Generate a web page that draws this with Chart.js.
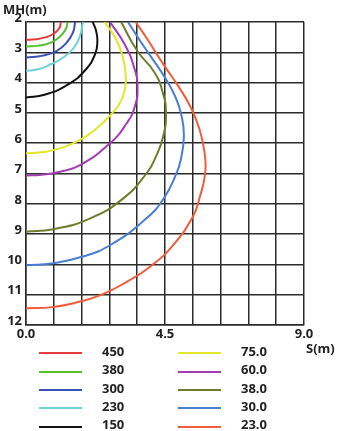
<!DOCTYPE html>
<html>
<head>
<meta charset="utf-8">
<script src="https://cdn.jsdelivr.net/npm/chart.js@4.4.1/dist/chart.umd.min.js"></script>
<style>
  body { margin: 0; background: #fff; }
  #wrap { position: relative; width: 340px; height: 431px; }
  #legend { position: absolute; left: 0; top: 0; width: 340px; height: 431px; pointer-events: none; }
  .item { position: absolute; height: 18px; display: flex; align-items: center; font: bold 13px "Open Sans", sans-serif; color: #222; }
  .item .swatch { width: 43px; height: 2px; }
  .item .txt { margin-left: 20px; position: relative; top: -2.5px; }
</style>
</head>
<body>
<div id="wrap">
  <canvas id="isolux-chart" width="340" height="431"></canvas>
  <div id="legend"></div>
</div>
<script>
// Niveles de las curvas (leyenda)
const levels = ["450", "380", "300", "230", "150", "75.0", "60.0", "38.0", "30.0", "23.0"];
const lineColors = ["#e83b3b", "#55c02a", "#3a52b5", "#6dd3d8", "#111111",
                    "#e2e72a", "#a23fb0", "#6e7d2b", "#4a7ed3", "#f25c3a"];

// Ticks de los ejes
const xGrid = [0, 0.9, 1.8, 2.7, 3.6, 4.5, 5.4, 6.3, 7.2, 8.1, 9.0];
const xLabels = [0, 4.5, 9.0];

// Curvas: [S(m), MH(m)]
const iso450 = [[1.13, 2.0], [1.08, 2.2], [0.92, 2.37], [0.65, 2.5], [0.3, 2.57], [0, 2.59]];
const iso380 = [[1.35, 2.0], [1.28, 2.25], [1.1, 2.48], [0.8, 2.68], [0.4, 2.78], [0, 2.81]];
const iso300 = [[1.59, 2.0], [1.52, 2.35], [1.3, 2.7], [1.0, 2.95], [0.55, 3.11], [0, 3.17]];
const iso230 = [[1.84, 2.0], [1.75, 2.45], [1.55, 2.85], [1.21, 3.17], [0.75, 3.42], [0.35, 3.57], [0, 3.61]];
const iso150 = [[2.16, 2.0], [2.27, 2.3], [2.31, 2.65], [2.24, 3.05], [1.95, 3.55], [1.35, 4.07], [0.6, 4.4], [0, 4.49]];
const iso75 = [[2.54, 2.0], [2.88, 2.5], [3.12, 3.1], [3.23, 3.8], [3.2, 4.2], [3.08, 4.6], [2.8, 5.0], [2.3, 5.5],
               [1.75, 5.89], [1.1, 6.17], [0.5, 6.3], [0, 6.33]];
const iso60 = [[2.72, 2.0], [3.2, 2.75], [3.5, 3.5], [3.61, 4.15], [3.52, 4.8], [3.26, 5.34], [2.72, 6.0],
               [1.75, 6.72], [1.1, 6.94], [0.5, 7.04], [0, 7.07]];
const iso38 = [[3.08, 2.0], [3.6, 2.95], [4.15, 3.65], [4.42, 4.3], [4.53, 5.0], [4.44, 5.78], [4.18, 6.5],
               [3.9, 7.0], [3.15, 7.82], [2.08, 8.48], [0.88, 8.84], [0, 8.92]];
const iso30 = [[3.3, 2.0], [3.85, 2.86], [4.44, 3.74], [4.85, 4.5], [5.05, 5.17], [5.11, 5.8], [5.01, 6.55],
               [4.87, 7.0], [4.46, 7.82], [3.9, 8.48], [2.73, 9.36], [1.81, 9.75], [0.88, 9.96], [0, 10.03]];
const iso23 = [[3.55, 2.0], [3.95, 2.6], [4.45, 3.4], [4.95, 4.15], [5.35, 4.85], [5.62, 5.55], [5.78, 6.3],
               [5.8, 7.0], [5.62, 7.8], [5.4, 8.43], [4.75, 9.38], [4.05, 10.05], [3.3, 10.55], [2.45, 11.0],
               [1.63, 11.26], [0.85, 11.41], [0, 11.45]];

const curves = [iso450, iso380, iso300, iso230, iso150, iso75, iso60, iso38, iso30, iso23];

const gridColor = "#2b2b2b";
const fontBold = { family: "'Open Sans', sans-serif", size: 13, weight: "bold" };

// Títulos de los ejes dibujados en el canvas
const axisNames = {
  id: "axisNames",
  afterDraw(chart) {
    const ctx = chart.ctx;
    ctx.save();
    ctx.fillStyle = "#222";
    ctx.font = "bold 13px 'Open Sans', sans-serif";
    ctx.textBaseline = "middle";
    ctx.textAlign = "left";
    ctx.fillText("MH(m)", 3, 10);
    ctx.fillText("S(m)", 306, 349);
    ctx.restore();
  },
};

const datasets = curves.map((pts, i) => ({
  label: levels[i],
  data: pts.map(p => ({ x: p[0], y: p[1] })),
  borderColor: lineColors[i],
  backgroundColor: lineColors[i],
  borderWidth: 2,
  pointRadius: 0,
  showLine: true,
  tension: 0.5,
  fill: false,
}));

const ctx = document.getElementById("isolux-chart").getContext("2d");
new Chart(ctx, {
  type: "scatter",
  data: { datasets: datasets },
  options: {
    responsive: false,
    animation: false,
    layout: { padding: { left: 0, top: 22, right: 36, bottom: 86 } },
    plugins: {
      legend: { display: false },
      tooltip: { enabled: false },
    },
    scales: {
      x: {
        type: "linear",
        min: 0,
        max: 9,
        afterBuildTicks: scale => {
          scale.ticks = xGrid.map(v => ({ value: v }));
        },
        afterFit: scale => { scale.height = 20; },
        grid: { color: gridColor, lineWidth: 1.5, drawTicks: false },
        border: { color: gridColor, width: 1.5 },
        ticks: {
          color: "#222",
          font: fontBold,
          padding: 1,
          maxRotation: 0,
          autoSkip: false,
          callback: value => (xLabels.includes(value) ? value.toFixed(1) : ""),
        },
      },
      y: {
        type: "linear",
        min: 2,
        max: 12,
        reverse: true,
        afterFit: scale => { scale.width = 26; },
        grid: { color: gridColor, lineWidth: 1.5, drawTicks: false },
        border: { color: gridColor, width: 1.5 },
        ticks: {
          stepSize: 1,
          color: "#222",
          font: fontBold,
          padding: 4,
          labelOffset: -4,
        },
      },
    },
  },
  plugins: [axisNames],
});

// Leyenda en dos columnas
const legend = document.getElementById("legend");
levels.forEach((lvl, i) => {
  const col = i < 5 ? 0 : 1;
  const row = i % 5;
  const item = document.createElement("div");
  item.className = "item";
  item.style.left = (col === 0 ? 39 : 178) + "px";
  item.style.top = (344.3 + row * 18.35) + "px";
  item.innerHTML = '<span class="swatch" style="background:' + lineColors[i] + '"></span>' +
                   '<span class="txt">' + lvl + "</span>";
  legend.appendChild(item);
});
</script>
</body>
</html>
